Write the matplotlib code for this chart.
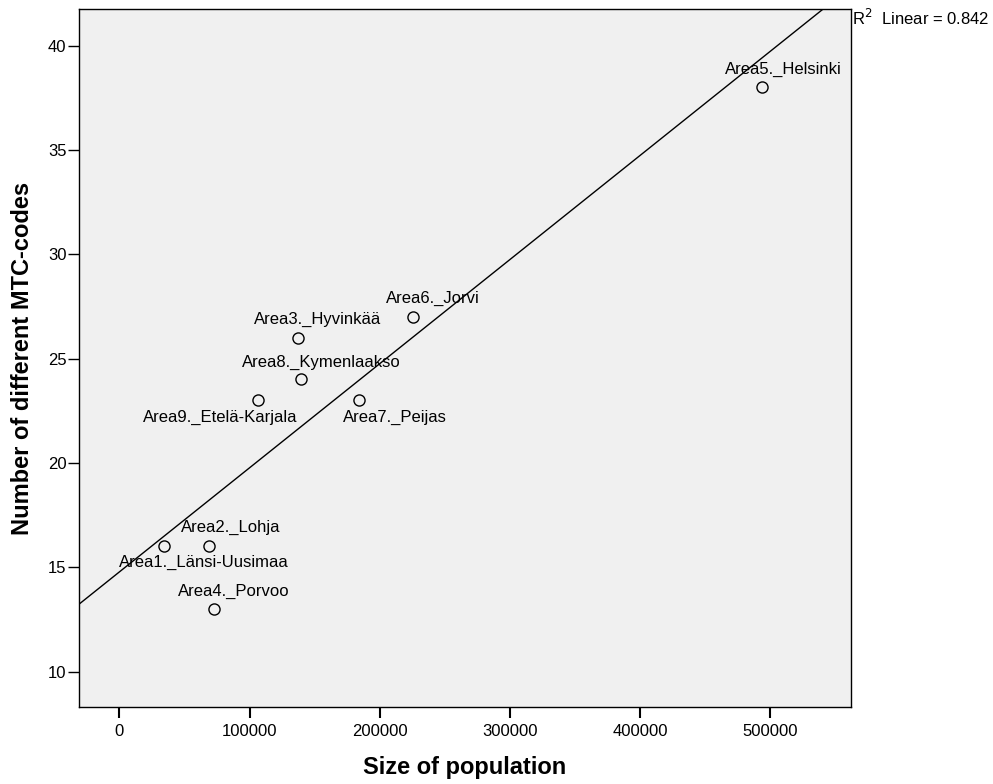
import matplotlib
matplotlib.use('Agg')
import matplotlib.pyplot as plt
import numpy as np

plt.rcParams['font.family'] = ['Liberation Sans', 'DejaVu Sans']

# data
areas = ['Area1._Länsi-Uusimaa', 'Area2._Lohja', 'Area3._Hyvinkää', 'Area4._Porvoo',
         'Area5._Helsinki', 'Area6._Jorvi', 'Area7._Peijas', 'Area8._Kymenlaakso',
         'Area9._Etelä-Karjala']
population = [34500, 69000, 137500, 73000, 494000, 225500, 184000, 139500, 106500]
mtc_codes = [16, 16, 26, 13, 38, 27, 23, 24, 23]

# label offsets (px) relative to the point
label_offsets = [(40, 16), (21, -19), (19, -18), (19, -18), (21, -18),
                 (20, -18), (36, 17), (20, -17), (-38, 17)]

x = np.array(population, dtype=float)
y = np.array(mtc_codes, dtype=float)
slope, intercept = np.polyfit(x, y, 1)
pred = slope * x + intercept
r2 = 1 - np.sum((y - pred) ** 2) / np.sum((y - y.mean()) ** 2)

fig = plt.figure(figsize=(9.93, 7.84), dpi=100)
ax = fig.add_axes([0.0796, 0.0982, 0.7774, 0.8903])
ax.set_facecolor('#F0F0F0')

xmin, xmax = -31000, 562000
ymin, ymax = 8.3, 41.75
ax.set_xlim(xmin, xmax)
ax.set_ylim(ymin, ymax)

xl = np.array([xmin, xmax])
ax.plot(xl, slope * xl + intercept, color='black', lw=1.0)

ax.plot(x, y, 'o', markersize=8, markerfacecolor='none', markeredgecolor='black', markeredgewidth=1.0)

for name, px, py, (dx, dy) in zip(areas, population, mtc_codes, label_offsets):
    ax.annotate(name, (px, py), xytext=(dx * 0.72, -dy * 0.72), textcoords='offset points',
                ha='center', va='center', fontsize=12)

ax.set_xticks([0, 100000, 200000, 300000, 400000, 500000])
ax.set_xticklabels(['0', '100000', '200000', '300000', '400000', '500000'])
ax.set_yticks([10, 15, 20, 25, 30, 35, 40])
ax.tick_params(axis='x', direction='out', length=8, width=1.5, labelsize=12, pad=4)
ax.tick_params(axis='y', direction='out', length=8, width=1.0, labelsize=12, pad=1)

for s in ax.spines.values():
    s.set_linewidth(1.0)

ax.set_xlabel('Size of population', fontsize=17, fontweight='bold')
ax.xaxis.label.set_va('center')
ax.xaxis.set_label_coords(0.5, -61 / 700)
ax.set_ylabel('Number of different MTC-codes', fontsize=17, fontweight='bold')
ax.yaxis.label.set_va('center')
ax.yaxis.set_label_coords(-57 / 772, 0.5)

fig.text(852 / 993, 1 - 18 / 784, 'R$^2$  Linear = %.3f' % r2, fontsize=12, ha='left', va='center')

plt.savefig('out.png', dpi=100)
